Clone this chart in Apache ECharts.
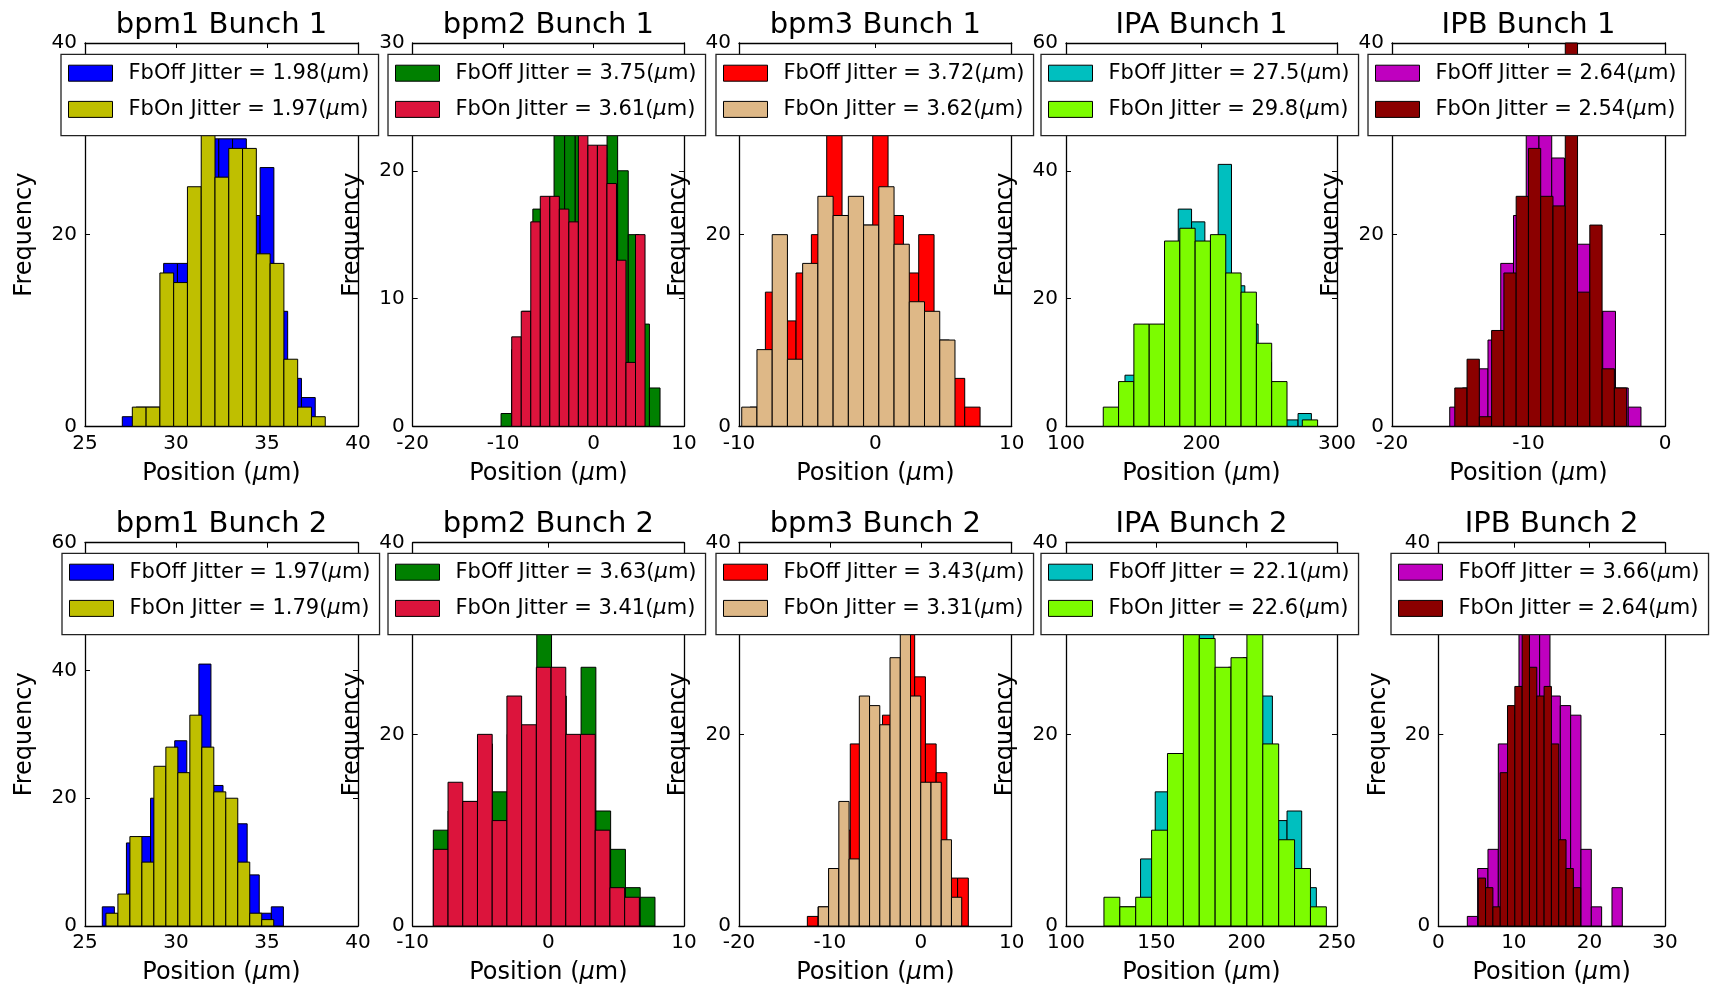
<!DOCTYPE html>
<html>
<head>
<meta charset="utf-8">
<script src="https://cdn.jsdelivr.net/npm/echarts@6/dist/echarts.min.js"></script>
<style>
  html, body { margin: 0; padding: 0; background: #fff; }
  #chart { width: 1713px; height: 988px; }
</style>
</head>
<body>
<div id="chart"></div>
<script>
// ---------------- DATA ----------------
const panelTitles = ['bpm1 Bunch 1', 'bpm2 Bunch 1', 'bpm3 Bunch 1', 'IPA Bunch 1', 'IPB Bunch 1',
                     'bpm1 Bunch 2', 'bpm2 Bunch 2', 'bpm3 Bunch 2', 'IPA Bunch 2', 'IPB Bunch 2'];
const jitterOff = ['1.98', '3.75', '3.72', '27.5', '2.64', '1.97', '3.63', '3.43', '22.1', '3.66'];
const jitterOn  = ['1.97', '3.61', '3.62', '29.8', '2.54', '1.79', '3.41', '3.31', '22.6', '2.64'];

// x-axis [min, max, interval], y-axis [max, interval]
const xMin = [25, -20, -10, 100, -20, 25, -10, -20, 100, 0];
const xMax = [40, 10, 10, 300, 0, 40, 10, 10, 250, 30];
const xStep = [5, 10, 10, 100, 10, 5, 10, 10, 50, 10];
const yMax = [40, 30, 40, 60, 40, 60, 40, 40, 40, 40];
const yStep = [20, 10, 20, 20, 20, 20, 20, 20, 20, 20];

// histogram ranges (bin range) and counts, FbOff then FbOn
const bpm1B1OffRange = [27.05, 37.65];
const bpm1B1Off = [1, 2, 2, 17, 17, 24, 30, 30, 30, 22, 27, 12, 5, 3];
const bpm1B1OnRange = [27.6, 38.2];
const bpm1B1On = [2, 2, 16, 15, 25, 31, 26, 29, 29, 18, 17, 7, 2, 1];

const bpm2B1OffRange = [-10.23, 7.35];
const bpm2B1Off = [1, 6, 9, 17, 17, 24, 24, 25, 20, 21, 24, 20, 15, 8, 3];
const bpm2B1OnRange = [-9.05, 5.69];
const bpm2B1On = [7, 9, 16, 18, 18, 17, 16, 24, 22, 22, 19, 13, 5, 15];

const bpm3B1OffRange = [-9.19, 7.68];
const bpm3B1Off = [2, 14, 11, 16, 20, 31, 22, 21, 31, 22, 16, 20, 9, 5, 2];
const bpm3B1OnRange = [-9.80, 5.84];
const bpm3B1On = [2, 8, 20, 7, 17, 24, 22, 24, 21, 25, 19, 13, 12, 9];

const ipaB1OffRange = [133.7, 281.1];
const ipaB1Off = [2, 8, 12, 14, 22, 34, 32, 25, 41, 22, 16, 10, 5, 1, 2];
const ipaB1OnRange = [127.5, 285.7];
const ipaB1On = [3, 7, 16, 16, 29, 31, 29, 30, 24, 21, 13, 7, 0, 1];

const ipbB1OffRange = [-15.77, -1.76];
const ipbB1Off = [2, 4, 6, 9, 17, 22, 32, 32, 28, 15, 19, 12, 12, 4, 2];
const ipbB1OnRange = [-15.40, -2.81];
const ipbB1On = [4, 7, 1, 10, 16, 24, 29, 24, 23, 40, 14, 21, 6, 4];

const bpm1B2OffRange = [25.95, 35.90];
const bpm1B2Off = [3, 1, 13, 14, 20, 22, 29, 22, 41, 22, 17, 16, 8, 2, 3];
const bpm1B2OnRange = [26.15, 35.37];
const bpm1B2On = [2, 5, 14, 10, 25, 28, 24, 33, 28, 21, 20, 10, 2, 1];

const bpm2B2OffRange = [-8.48, 7.86];
const bpm2B2Off = [10, 12, 13, 19, 14, 20, 19, 32, 24, 17, 27, 12, 8, 4, 3];
const bpm2B2OnRange = [-8.48, 6.71];
const bpm2B2On = [8, 15, 13, 20, 11, 24, 21, 27, 27, 20, 20, 10, 4, 3];

const bpm3B2OffRange = [-12.48, 5.23];
const bpm3B2Off = [1, 2, 6, 10, 19, 21, 20, 22, 25, 32, 26, 19, 16, 5, 5];
const bpm3B2OnRange = [-11.27, 4.50];
const bpm3B2On = [2, 6, 13, 7, 24, 23, 21, 28, 31, 24, 15, 15, 9, 3];

const ipaB2OffRange = [125.06, 238.57];
const ipaB2Off = [2, 2, 7, 14, 17, 30, 32, 26, 27, 28, 24, 11, 12, 4];
const ipaB2OnRange = [121.0, 244.1];
const ipaB2On = [3, 2, 3, 10, 18, 32, 30, 27, 28, 32, 19, 9, 6, 2];

const ipbB2OffRange = [3.84, 24.35];
const ipbB2Off = [1, 6, 8, 19, 22, 31, 32, 31, 24, 23, 22, 8, 2, 0, 4];
const ipbB2OnRange = [5.29, 18.84];
const ipbB2On = [5, 4, 2, 16, 23, 25, 32, 27, 24, 25, 19, 9, 6, 4];

const offRanges = [bpm1B1OffRange, bpm2B1OffRange, bpm3B1OffRange, ipaB1OffRange, ipbB1OffRange,
                   bpm1B2OffRange, bpm2B2OffRange, bpm3B2OffRange, ipaB2OffRange, ipbB2OffRange];
const offCounts = [bpm1B1Off, bpm2B1Off, bpm3B1Off, ipaB1Off, ipbB1Off,
                   bpm1B2Off, bpm2B2Off, bpm3B2Off, ipaB2Off, ipbB2Off];
const onRanges = [bpm1B1OnRange, bpm2B1OnRange, bpm3B1OnRange, ipaB1OnRange, ipbB1OnRange,
                  bpm1B2OnRange, bpm2B2OnRange, bpm3B2OnRange, ipaB2OnRange, ipbB2OnRange];
const onCounts = [bpm1B1On, bpm2B1On, bpm3B1On, ipaB1On, ipbB1On,
                  bpm1B2On, bpm2B2On, bpm3B2On, ipaB2On, ipbB2On];

// ---------------- STYLE / LAYOUT ----------------
const offColors = ['#0000ff', '#008000', '#ff0000', '#00bfbf', '#bf00bf'];
const onColors  = ['#bfbf00', '#dc143c', '#deb887', '#7cfc00', '#8b0000'];
const FONT = 'DejaVu Sans';
const gridLefts  = [85, 412.7, 739, 1066, 1392, 85, 412.7, 739, 1066, 1438.3];
const gridWidths = [273, 271.3, 272.7, 271, 273, 273, 271.3, 272.7, 271, 226.7];
const gridTops   = [43, 43, 43, 43, 43, 542.7, 542.7, 542.7, 542.7, 542.7];
const gridHeight = 383.3;
const legendLefts = [61, 388, 716, 1041, 1368, 62, 388, 716, 1041, 1391];
const legendTops  = [54.3, 54.3, 54.3, 54.3, 54.3, 553.3, 553.3, 553.3, 553.3, 553.3];
const titleTops   = [10.5, 10.5, 10.5, 10.5, 10.5, 509.5, 509.5, 509.5, 509.5, 509.5];

function histData(range, counts) {
  const w = (range[1] - range[0]) / counts.length;
  return counts.map((c, i) => [range[0] + i * w, range[0] + (i + 1) * w, c]);
}

function renderHist(params, api) {
  const c = api.value(2);
  if (!c) return null;
  const p0 = api.coord([api.value(0), c]);
  const p1 = api.coord([api.value(1), 0]);
  const cs = params.coordSys;
  const rect = echarts.graphic.clipRectByRect(
    { x: p0[0], y: p0[1], width: p1[0] - p0[0], height: p1[1] - p0[1] },
    { x: cs.x, y: cs.y, width: cs.width, height: cs.height });
  if (!rect) return null;
  return { type: 'rect', shape: rect, style: { fill: api.visual('color'), stroke: '#000', lineWidth: 1 } };
}

const muRich = {
  t: { fontFamily: FONT, fontSize: 24, color: '#000' },
  mu: { fontFamily: FONT, fontSize: 24, fontStyle: 'italic', color: '#000' }
};
const legendRich = {
  g: { width: 11 },
  t: { fontFamily: FONT, fontSize: 21, color: '#000' },
  mu: { fontFamily: FONT, fontSize: 21, fontStyle: 'italic', color: '#000' }
};

const grids = [], xAxes = [], yAxes = [], series = [], legends = [], titles = [];
const axisLineStyle = { color: '#000', width: 1.3 };
for (let i = 0; i < 10; i++) {
  grids.push({ left: gridLefts[i], top: gridTops[i], width: gridWidths[i], height: gridHeight });
  const xCommon = {
    type: 'value', gridIndex: i, min: xMin[i], max: xMax[i], interval: xStep[i],
    splitLine: { show: false },
    axisLine: { show: true, onZero: false, lineStyle: axisLineStyle },
    axisTick: { show: true, inside: true, length: 5, lineStyle: { color: '#000', width: 1 } }
  };
  xAxes.push(Object.assign({}, xCommon, {
    position: 'bottom',
    axisLabel: { show: true, fontFamily: FONT, fontSize: 20, color: '#000', margin: 7 },
    name: '{t|Position (}{mu|μ}{t|m)}', nameLocation: 'middle', nameGap: 35,
    nameTextStyle: { rich: muRich }
  }));
  xAxes.push(Object.assign({}, xCommon, { position: 'top', axisLabel: { show: false } }));
  const yCommon = {
    type: 'value', gridIndex: i, min: 0, max: yMax[i], interval: yStep[i],
    splitLine: { show: false },
    axisLine: { show: true, onZero: false, lineStyle: axisLineStyle },
    axisTick: { show: true, inside: true, length: 5, lineStyle: { color: '#000', width: 1 } }
  };
  yAxes.push(Object.assign({}, yCommon, {
    position: 'left',
    axisLabel: { show: true, fontFamily: FONT, fontSize: 20, color: '#000', margin: 8 },
    name: 'Frequency', nameLocation: 'middle', nameGap: 48,
    nameTextStyle: { fontFamily: FONT, fontSize: 24, color: '#000' }
  }));
  yAxes.push(Object.assign({}, yCommon, { position: 'right', axisLabel: { show: false } }));

  const offName = 'FbOff Jitter = ' + jitterOff[i] + '(μm)';
  const onName = 'FbOn Jitter = ' + jitterOn[i] + '(μm)';
  series.push({
    type: 'custom', name: offName, xAxisIndex: 2 * i, yAxisIndex: 2 * i,
    renderItem: renderHist, encode: { x: [0, 1], y: 2 },
    itemStyle: { color: offColors[i % 5], borderColor: '#000', borderWidth: 1 },
    data: histData(offRanges[i], offCounts[i]), silent: true
  });
  series.push({
    type: 'custom', name: onName, xAxisIndex: 2 * i, yAxisIndex: 2 * i,
    renderItem: renderHist, encode: { x: [0, 1], y: 2 },
    itemStyle: { color: onColors[i % 5], borderColor: '#000', borderWidth: 1 },
    data: histData(onRanges[i], onCounts[i]), silent: true
  });
  legends.push({
    data: [offName, onName], orient: 'vertical', left: legendLefts[i], top: legendTops[i],
    padding: [8.4, 9, 15.8, 7], itemGap: 15.2, itemWidth: 44, itemHeight: 16, icon: 'rect',
    backgroundColor: '#fff', borderColor: '#222', borderWidth: 1.3, selectedMode: false,
    itemStyle: { borderColor: '#000', borderWidth: 1 },
    textStyle: { rich: legendRich },
    formatter: function (name) {
      const base = name.replace('(μm)', '');
      return '{g| }{t|' + base + '(}{mu|μ}{t|m)}';
    }
  });
  titles.push({
    text: panelTitles[i], left: gridLefts[i] + gridWidths[i] / 2, top: titleTops[i],
    textAlign: 'center', textVerticalAlign: 'top', padding: 0,
    textStyle: { fontFamily: FONT, fontSize: 29, fontWeight: 'normal', color: '#000', lineHeight: 29 }
  });
}

const chart = echarts.init(document.getElementById('chart'), null, { renderer: 'canvas' });
chart.setOption({
  backgroundColor: '#fff',
  animation: false,
  title: titles,
  grid: grids,
  xAxis: xAxes,
  yAxis: yAxes,
  legend: legends,
  series: series
});
</script>
</body>
</html>
